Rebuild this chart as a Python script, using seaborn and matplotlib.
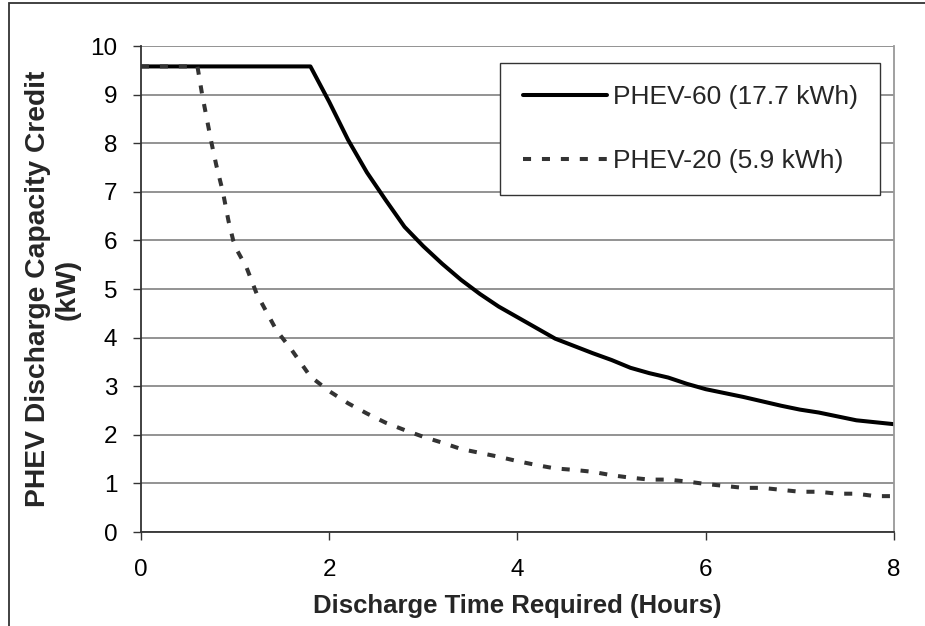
import matplotlib
matplotlib.use("Agg")
import matplotlib.pyplot as plt
import matplotlib.patches as mpatches
import seaborn as sns

# PHEV-60 (17.7 kWh)
phev60_hours = [0, 0.2, 0.4, 0.6, 0.8, 1.0, 1.2, 1.4, 1.6, 1.8,
                2.0, 2.2, 2.4, 2.6, 2.8, 3.0, 3.2, 3.4, 3.6, 3.8,
                4.0, 4.2, 4.4, 4.6, 4.8, 5.0, 5.2, 5.4, 5.6, 5.8,
                6.0, 6.2, 6.4, 6.6, 6.8, 7.0, 7.2, 7.4, 7.6, 7.8, 8.0]
phev60_kw = [9.58, 9.58, 9.58, 9.58, 9.58, 9.58, 9.58, 9.58, 9.58, 9.58,
             8.85, 8.07, 7.40, 6.83, 6.28, 5.88, 5.52, 5.19, 4.90, 4.64,
             4.42, 4.20, 3.98, 3.83, 3.68, 3.54, 3.38, 3.27, 3.18, 3.05,
             2.94, 2.86, 2.78, 2.69, 2.60, 2.52, 2.46, 2.38, 2.30, 2.26, 2.22]

# PHEV-20 (5.9 kWh)
phev20_hours = [0, 0.2, 0.4, 0.6, 0.65, 0.75, 0.8, 0.87, 0.93, 0.98,
                1.02, 1.12, 1.23, 1.44, 1.6, 1.8, 2.0, 2.2, 2.4, 2.6,
                2.8, 3.0, 3.2, 3.4, 3.6, 3.8, 4.0, 4.2, 4.4, 4.6,
                4.8, 5.0, 5.2, 5.4, 5.6, 5.8, 6.0, 6.2, 6.4, 6.6,
                6.8, 7.0, 7.2, 7.4, 7.6, 7.8, 8.0]
phev20_kw = [9.58, 9.58, 9.58, 9.58, 9.0, 8.0, 7.55, 7.0, 6.4, 6.0,
             5.8, 5.45, 4.9, 4.15, 3.75, 3.2, 2.9, 2.65, 2.44, 2.25,
             2.10, 1.96, 1.84, 1.71, 1.63, 1.55, 1.46, 1.38, 1.31, 1.28,
             1.24, 1.17, 1.12, 1.08, 1.08, 1.04, 0.99, 0.95, 0.91, 0.91,
             0.87, 0.83, 0.83, 0.79, 0.79, 0.74, 0.74]

label60 = "PHEV-60 (17.7 kWh)"
label20 = "PHEV-20 (5.9 kWh)"

sns.set_theme(style="white")
plt.rcParams["font.family"] = ["Liberation Sans", "DejaVu Sans"]

fig, ax = plt.subplots(figsize=(9.25, 6.26), dpi=100)
fig.subplots_adjust(left=0.1524, right=0.9665, top=0.9265, bottom=0.150)

sns.lineplot(x=phev60_hours, y=phev60_kw, ax=ax, color="black", lw=2.9,
             label=label60, estimator=None, sort=False)
sns.lineplot(x=phev20_hours, y=phev20_kw, ax=ax, color="#333333", lw=2.9,
             linestyle=(0, (2.0, 2.7)), label=label20, estimator=None, sort=False)

ax.set_xlim(0, 8)
ax.set_ylim(0, 10)
ax.set_xticks([0, 2, 4, 6, 8])
ax.set_yticks(range(0, 11))
ax.grid(axis="y", color="#808080", lw=1.2)
ax.grid(axis="x", visible=False)
ax.set_axisbelow(True)

for side in ["left", "bottom"]:
    ax.spines[side].set_color("#333333")
    ax.spines[side].set_linewidth(1.3)
ax.spines["right"].set_color("#999999")
ax.spines["right"].set_linewidth(1.3)
ax.spines["top"].set_visible(False)

ax.tick_params(axis="both", which="both", direction="out", length=5.5,
               width=1, color="#333333", labelsize=17.5, labelcolor="black")
ax.tick_params(axis="x", pad=14, bottom=True)
ax.tick_params(axis="y", pad=11.5, left=True)

ax.set_xlabel("Discharge Time Required (Hours)", fontsize=18.5, fontweight="bold")
ax.set_ylabel("PHEV Discharge Capacity Credit\n(kW)", fontsize=20.3,
              fontweight="bold", linespacing=1.2)
ax.xaxis.set_label_coords(0.5, -0.127)
ax.yaxis.set_label_coords(-0.08, 0.5)

leg = ax.legend(loc="upper right", bbox_to_anchor=(0.9814, 0.965),
                borderaxespad=0, fontsize=19, frameon=True, fancybox=False,
                framealpha=1, edgecolor="#333333", handlelength=3.2,
                handletextpad=0.2, labelspacing=1.5, borderpad=0.85)
leg.get_frame().set_linewidth(1.0)

# outer chart frame (left and top edges visible)
frame = mpatches.Rectangle((9 / 925, -0.5), 1.5, 0.5 + 1 - 3 / 626,
                           transform=fig.transFigure, fill=False,
                           edgecolor="#333333", lw=1.3, clip_on=False)
fig.add_artist(frame)

plt.savefig("out.png", dpi=100)
